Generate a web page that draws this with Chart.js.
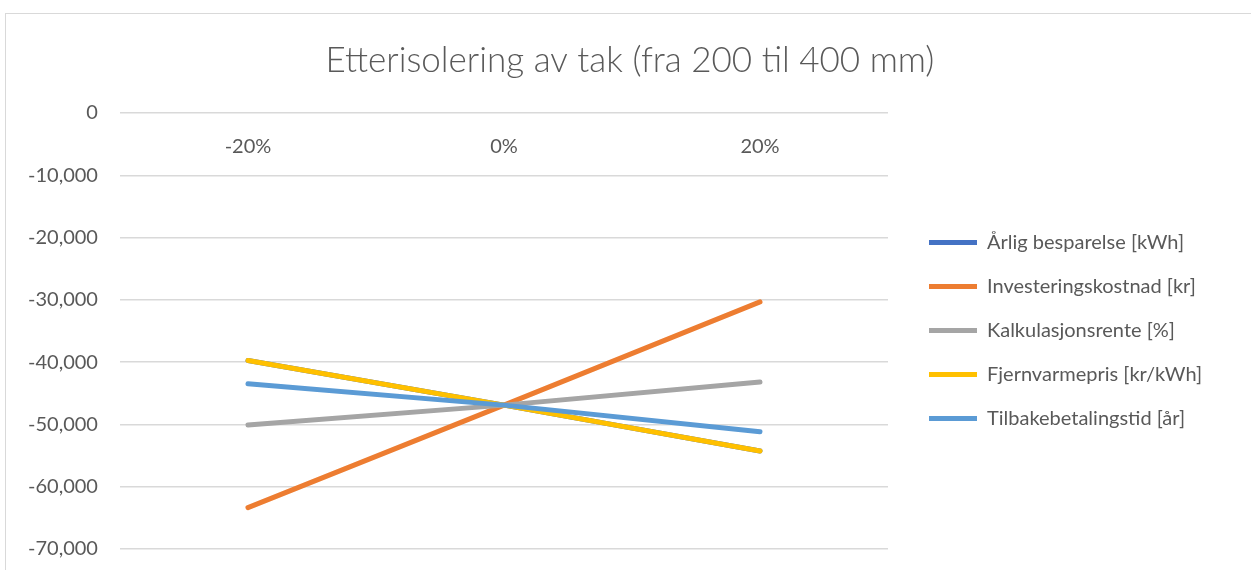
<!DOCTYPE html>
<html>
<head>
<meta charset="utf-8">
<script src="https://cdn.jsdelivr.net/npm/chart.js@4/dist/chart.umd.min.js"></script>
<style>
  html, body { margin: 0; padding: 0; background: #fff; overflow: hidden; width: 1251px; height: 570px; }
  #frame { position: absolute; left: 5px; top: 13px; width: 1250px; height: 700px; border: 1px solid #d9d9d9; box-sizing: border-box; }
  #box { position: absolute; left: 0; top: 0; width: 1248px; height: 569px; }
</style>
</head>
<body>
<div id="frame"><div id="box"><canvas id="c"></canvas></div></div>
<script>
// Sensitivity of net present value to ±20 % change in each input
const categories = ['-20%', '0%', '20%'];
const arligBesparelse     = [-39730, -46900, -54260];
const investeringskostnad = [-63350, -46900, -30320];
const kalkulasjonsrente   = [-50100, -46900, -43170];
const fjernvarmepris      = [-39730, -46900, -54260];
const tilbakebetalingstid = [-43460, -46900, -51170];

const seriesNames = [
  'Årlig besparelse [kWh]',
  'Investeringskostnad [kr]',
  'Kalkulasjonsrente [%]',
  'Fjernvarmepris [kr/kWh]',
  'Tilbakebetalingstid [år]'
];
const seriesValues = [arligBesparelse, investeringskostnad, kalkulasjonsrente, fjernvarmepris, tilbakebetalingstid];
const seriesColors = ['#4472C4', '#ED7D31', '#A5A5A5', '#FFC000', '#5B9BD5'];

const yMin = -70000, yMax = 0, yStep = 10000;

const FONT = 'Lato, "Open Sans", sans-serif';
const TEXT = '#595959';

// Leave a wider gap between the plot area and the legend, let the legend use
// the full remaining width so its labels are not clipped, and centre the
// title across the whole canvas.
const legendGap = {
  id: 'legendGap',
  afterLayout(chart) {
    const lg = chart.legend;
    if (lg) {
      lg.left += 17;
      lg.right = chart.width;
      lg.width = lg.right - lg.left;
    }
    const tb = chart.titleBlock;
    if (tb) {
      tb.left = 0;
      tb.right = chart.width;
      tb.width = chart.width;
    }
  }
};

new Chart(document.getElementById('c'), {
  type: 'line',
  data: {
    labels: categories,
    datasets: seriesNames.map((name, i) => ({
      label: name,
      data: seriesValues[i],
      // later series are painted over earlier ones
      order: seriesNames.length - i,
      borderColor: seriesColors[i],
      backgroundColor: seriesColors[i],
      borderWidth: 5,
      borderCapStyle: 'round',
      borderJoinStyle: 'round',
      pointRadius: 0,
      pointHoverRadius: 0,
      tension: 0,
      fill: false
    }))
  },
  plugins: [legendGap],
  options: {
    responsive: true,
    maintainAspectRatio: false,
    animation: false,
    layout: { padding: { left: 0, right: 72, top: 0, bottom: 0 } },
    plugins: {
      title: {
        display: true,
        text: 'Etterisolering av tak (fra 200 til 400 mm)',
        color: TEXT,
        font: { family: FONT, size: 35, weight: '300' },
        padding: { top: 26, bottom: 31 }
      },
      legend: {
        position: 'right',
        title: { display: true, text: ' ', font: { size: 10 }, padding: { top: 0, bottom: 52 } },
        labels: {
          color: TEXT,
          font: { family: FONT, size: 20 },
          usePointStyle: true,
          pointStyle: 'line',
          pointStyleWidth: 48,
          padding: 24,
          sort: (a, b) => a.datasetIndex - b.datasetIndex
        }
      },
      tooltip: { enabled: false }
    },
    scales: {
      x: {
        type: 'category',
        offset: true,
        position: { y: 0 },
        grid: { display: false, drawTicks: false },
        border: { display: false },
        ticks: { color: TEXT, font: { family: FONT, size: 20 }, padding: 22 }
      },
      y: {
        min: yMin,
        max: yMax,
        grid: { color: '#d9d9d9', lineWidth: 1.5, drawTicks: false },
        border: { display: false },
        ticks: {
          stepSize: yStep,
          color: TEXT,
          font: { family: FONT, size: 20 },
          padding: 22,
          callback: v => v.toLocaleString('en-US')
        }
      }
    }
  }
});
</script>
</body>
</html>
